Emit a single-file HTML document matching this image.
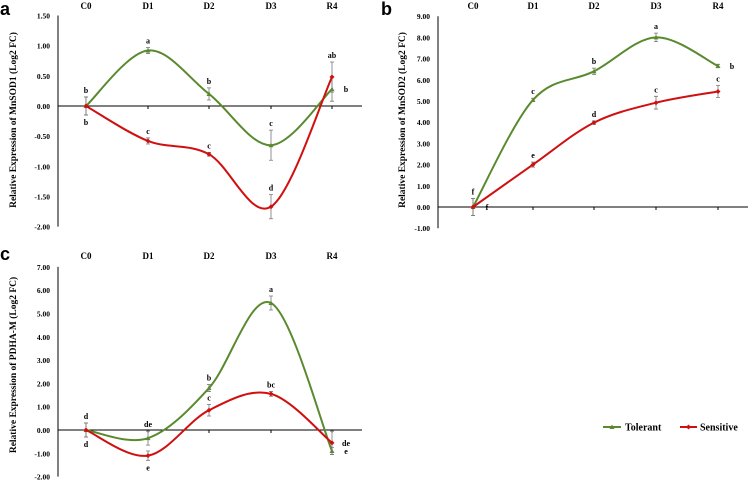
<!DOCTYPE html>
<html><head><meta charset="utf-8">
<style>
body{margin:0;background:#fff;width:749px;height:481px;overflow:hidden}
svg text{font-family:"Liberation Serif",serif;font-weight:bold}
</style></head>
<body>
<svg id="chart" width="749" height="481" xmlns="http://www.w3.org/2000/svg"></svg>
<script>
const categories=["C0","D1","D2","D3","R4"];
const aTol=[0,0.92,0.2,-0.65,0.28];
const aTolErr=[0.15,0.05,0.1,0.25,0.2];
const aSen=[0,-0.58,-0.8,-1.67,0.48];
const aSenErr=[0.15,0.05,0.03,0.2,0.25];
const aTolLet=["b","a","b","c","b"];
const aSenLet=["b","c","c","d","ab"];
const aTicks=[1.5,1,0.5,0,-0.5,-1,-1.5,-2];
const bTol=[0,5.05,6.4,8.0,6.65];
const bTolErr=[0.4,0.08,0.15,0.2,0.08];
const bSen=[0,2.0,3.98,4.92,5.45];
const bSenErr=[0.4,0.12,0.08,0.3,0.28];
const bTolLet=["f","c","b","a","b"];
const bSenLet=["f","e","d","c","c"];
const bTicks=[9,8,7,6,5,4,3,2,1,0,-1];
const cTol=[0,-0.35,1.8,5.45,-0.9];
const cTolErr=[0.3,0.3,0.15,0.3,0.15];
const cSen=[0,-1.1,0.85,1.55,-0.55];
const cSenErr=[0.3,0.2,0.25,0.1,0.5];
const cTolLet=["d","de","b","a","e"];
const cSenLet=["d","e","c","bc","de"];
const cTicks=[7,6,5,4,3,2,1,0,-1,-2];

const svg=document.getElementById('chart');
const NS="http://www.w3.org/2000/svg";
function mk(tag,attrs,parent){const e=document.createElementNS(NS,tag);for(const k in attrs)e.setAttribute(k,attrs[k]);(parent||svg).appendChild(e);return e;}
function txt(s,x,y,size,anchor,parent){const t=mk('text',{x:x,y:y,'font-size':size,'text-anchor':anchor||'middle'},parent);t.textContent=s;return t;}

function smooth(pts){let d=`M${pts[0][0]},${pts[0][1]}`;for(let i=0;i<pts.length-1;i++){const p0=pts[i-1]||pts[i],p1=pts[i],p2=pts[i+1],p3=pts[i+2]||p2;const k=1/6;d+=` C${p1[0]+(p2[0]-p0[0])*k},${p1[1]+(p2[1]-p0[1])*k} ${p2[0]-(p3[0]-p1[0])*k},${p2[1]-(p3[1]-p1[1])*k} ${p2[0]},${p2[1]}`;}return d;}

function panel(cfg){
  const g=mk('g',{});
  
  
  const y=v=>cfg.y0-(v)*cfg.scale;
  const x=i=>cfg.xs[i];
  const pl=txt(cfg.letter,cfg.lx,cfg.ly,18,'start',g);
  pl.setAttribute('style','font-family:"Liberation Sans",sans-serif;font-weight:bold');
  
  const ya=mk('line',{x1:cfg.ax,y1:y(cfg.ticks[0]),x2:cfg.ax,y2:y(cfg.ticks[cfg.ticks.length-1]),stroke:'#000','stroke-width':1},g);
  
  cfg.ticks.forEach(t=>{
    const tl=txt(t.toFixed(2),cfg.ax-8,y(t)+3,7.5,'end',g);
    
  });
  const xa=mk('line',{x1:cfg.ax,y1:y(0),x2:cfg.axEnd,y2:y(0),stroke:'#000','stroke-width':1},g);
  
  categories.forEach((c,i)=>{
    mk('line',{x1:x(i),y1:y(0),x2:x(i),y2:y(0)+3,stroke:'#000'},g);
    const cl=txt(c,x(i),cfg.catY,9,'middle',g);
    
  });
  const yt=txt(cfg.title,0,0,9.5,'middle',g);
  yt.setAttribute('transform',`translate(${cfg.tx},${cfg.ty}) rotate(-90)`);
  
  const series=[[cfg.tol,cfg.tolErr,cfg.tolLet,'#5a8a2e','tolerant',cfg.tolPos],[cfg.sen,cfg.senErr,cfg.senLet,'#d01010','sensitive',cfg.senPos]];
  series.forEach(([vals,errs,lets,col,nm,pos])=>{
    const pts=vals.map((v,i)=>[x(i),y(v)]);
    const p=mk('path',{d:smooth(pts),fill:'none',stroke:col,'stroke-width':2},g);
    
    vals.forEach((v,i)=>{
      const e=errs[i];
      const eb=mk('path',{d:`M${x(i)},${y(v+e)}V${y(v-e)}M${x(i)-2},${y(v+e)}h4M${x(i)-2},${y(v-e)}h4`,stroke:'#777','stroke-width':0.8,fill:'none'},g);
      
      let m;
      if(nm==='tolerant') m=mk('path',{d:`M${x(i)},${y(v)-2.5}l2.5,4.5h-5z`,fill:col},g);
      else m=mk('path',{d:`M${x(i)},${y(v)-2.5}l2.5,2.5l-2.5,2.5l-2.5,-2.5z`,fill:col},g);
      
      const ps=pos[i];
      let lx=x(i),ly;
      if(ps==='a') ly=y(v+e)-4; else if(ps==='b') ly=y(v-e)+10; else {lx=x(i)+14;ly=y(v)+3;}
      const l=txt(lets[i],lx,ly,8,'middle',g);
      
    });
  });
}
panel({name:'panel-a',letter:'a',lx:0,ly:15,ax:58,axEnd:362,y0:106,scale:60.3,ticks:aTicks,xs:[86,148,209,271,332],catY:9,
  title:'Relative Expression of MnSOD1 (Log2 FC)',tx:16,ty:120,
  tol:aTol,tolErr:aTolErr,tolLet:aTolLet,sen:aSen,senErr:aSenErr,senLet:aSenLet,
  tolPos:['a','a','a','a','r'],senPos:['b','a','a','a','a']});
panel({name:'panel-b',letter:'b',lx:381,ly:15,ax:438,axEnd:748,y0:207,scale:21.2,ticks:bTicks,xs:[473,533,594,656,718],catY:9,
  title:'Relative Expression of MnSOD2 (Log2 FC)',tx:405,ty:120,
  tol:bTol,tolErr:bTolErr,tolLet:bTolLet,sen:bSen,senErr:bSenErr,senLet:bSenLet,
  tolPos:['a','a','a','a','r'],senPos:['r','a','a','a','a']});
panel({name:'panel-c',letter:'c',lx:0,ly:260,ax:58,axEnd:362,y0:430,scale:23.3,ticks:cTicks,xs:[86,148,209,271,332],catY:259,
  title:'Relative Expression of PDHA-M (Log2 FC)',tx:16,ty:365,
  tol:cTol,tolErr:cTolErr,tolLet:cTolLet,sen:cSen,senErr:cSenErr,senLet:cSenLet,
  tolPos:['a','a','a','a','r'],senPos:['b','b','a','a','r']});
const lg=mk('g',{});


mk('line',{x1:603,y1:427,x2:621,y2:427,stroke:'#5a8a2e','stroke-width':2},lg);
mk('path',{d:'M612,424.5l2.5,4.5h-5z',fill:'#5a8a2e'},lg);
const t1=txt('Tolerant',625,430.5,10,'start',lg);


mk('line',{x1:680,y1:427,x2:697,y2:427,stroke:'#d01010','stroke-width':2},lg);
mk('path',{d:'M688.5,424.5l2.5,2.5l-2.5,2.5l-2.5,-2.5z',fill:'#d01010'},lg);
const t2=txt('Sensitive',700,430.5,10,'start',lg);


</script>
</body></html>
